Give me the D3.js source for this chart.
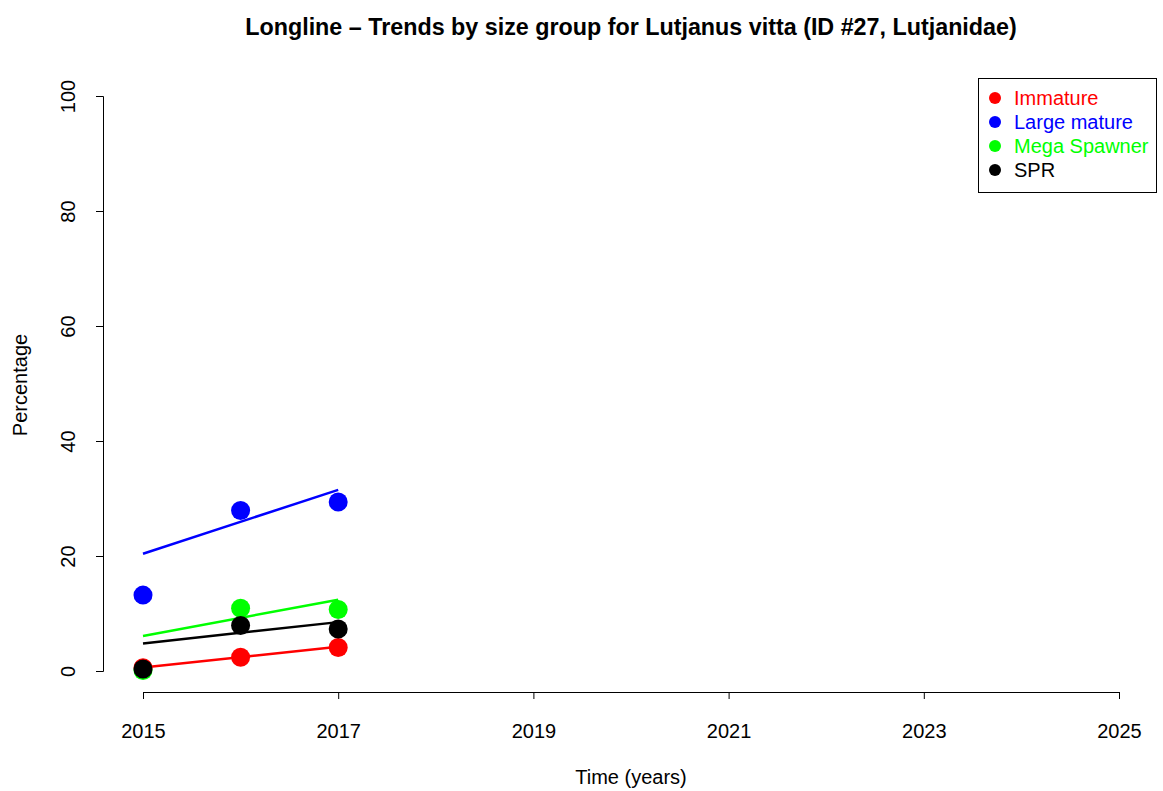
<!DOCTYPE html>
<html>
<head>
<meta charset="utf-8">
<script src="https://cdn.jsdelivr.net/npm/d3@7"></script>
<style>
  html, body { margin: 0; padding: 0; background: #fff; }
  svg { display: block; font-family: "Liberation Sans", Arial, sans-serif; }
</style>
</head>
<body>
<svg id="chart" width="1163" height="791"></svg>
<script>
// Observed percentages per size group
const years = [2015, 2016, 2017];
const immature = [0.55, 2.4, 4.1];
const largeMature = [13.2, 27.9, 29.4];
const megaSpawner = [0.1, 10.9, 10.7];
const spr = [0.35, 7.9, 7.3];

// Fitted trend values at the first and last year
const trendYears = [2015, 2017];
const immatureTrend = [0.6, 4.2];
const largeMatureTrend = [20.4, 31.5];
const megaSpawnerTrend = [6.1, 12.4];
const sprTrend = [4.8, 8.5];

const xTicks = [2015, 2017, 2019, 2021, 2023, 2025];
const yTicks = [0, 20, 40, 60, 80, 100];

const groups = [
  { name: "Immature", color: "#ff0000", values: immature, trend: immatureTrend },
  { name: "Large mature", color: "#0000ff", values: largeMature, trend: largeMatureTrend },
  { name: "Mega Spawner", color: "#00ff00", values: megaSpawner, trend: megaSpawnerTrend },
  { name: "SPR", color: "#000000", values: spr, trend: sprTrend }
];

const FONT = 20;
const svg = d3.select("#chart");
const x = d3.scaleLinear().domain([2015, 2025]).range([143, 1119]);
const y = d3.scaleLinear().domain([0, 100]).range([671, 96]);

// Title
svg.append("text")
  .attr("x", 631).attr("y", 35)
  .attr("text-anchor", "middle")
  .attr("font-weight", "bold")
  .attr("font-size", 23.3)
  .text("Longline \u2013 Trends by size group for Lutjanus vitta (ID #27, Lutjanidae)");

// Axes
const xAxis = svg.append("g")
  .attr("transform", "translate(0,692)")
  .call(d3.axisBottom(x).tickValues(xTicks).tickFormat(d3.format("d")).tickSizeOuter(0).tickSize(7).tickPadding(25));
const yAxis = svg.append("g")
  .attr("transform", "translate(103,0)")
  .call(d3.axisLeft(y).tickValues(yTicks).tickSizeOuter(0).tickSize(7));

[xAxis, yAxis].forEach(g => {
  g.select(".domain").attr("stroke", "#000").attr("stroke-width", 1);
  g.selectAll(".tick line").attr("stroke", "#000");
  g.selectAll("text").attr("font-size", FONT).attr("fill", "#000")
    .attr("font-family", "'Liberation Sans', Arial, sans-serif");
});
yAxis.selectAll(".tick text")
  .attr("text-anchor", "middle")
  .attr("x", null).attr("dy", null)
  .attr("transform", "translate(-28,0) rotate(-90)");

// Axis titles
svg.append("text")
  .attr("x", 631).attr("y", 784)
  .attr("text-anchor", "middle").attr("font-size", FONT)
  .text("Time (years)");
svg.append("text")
  .attr("transform", "translate(27,385) rotate(-90)")
  .attr("text-anchor", "middle").attr("font-size", FONT)
  .text("Percentage");

// Trend lines and observed points
const plot = svg.append("g");
groups.forEach(g => {
  plot.append("line")
    .attr("x1", x(trendYears[0])).attr("y1", y(g.trend[0]))
    .attr("x2", x(trendYears[1])).attr("y2", y(g.trend[1]))
    .attr("stroke", g.color).attr("stroke-width", 2.5);
});
groups.forEach(g => {
  plot.selectAll(null)
    .data(years.map((yr, i) => ({ yr, v: g.values[i] })))
    .join("circle")
    .attr("cx", d => x(d.yr)).attr("cy", d => y(d.v))
    .attr("r", 9.5)
    .attr("fill", g.color);
});

// Legend
const legend = svg.append("g");
legend.append("rect")
  .attr("x", 978.5).attr("y", 78.5).attr("width", 178).attr("height", 114)
  .attr("fill", "#fff").attr("stroke", "#000").attr("stroke-width", 1);
groups.forEach((g, i) => {
  const ly = 98 + i * 24;
  legend.append("circle").attr("cx", 995).attr("cy", ly).attr("r", 6).attr("fill", g.color);
  legend.append("text")
    .attr("x", 1014).attr("y", ly + 7)
    .attr("font-size", FONT)
    .attr("fill", g.color)
    .text(g.name);
});
</script>
</body>
</html>
